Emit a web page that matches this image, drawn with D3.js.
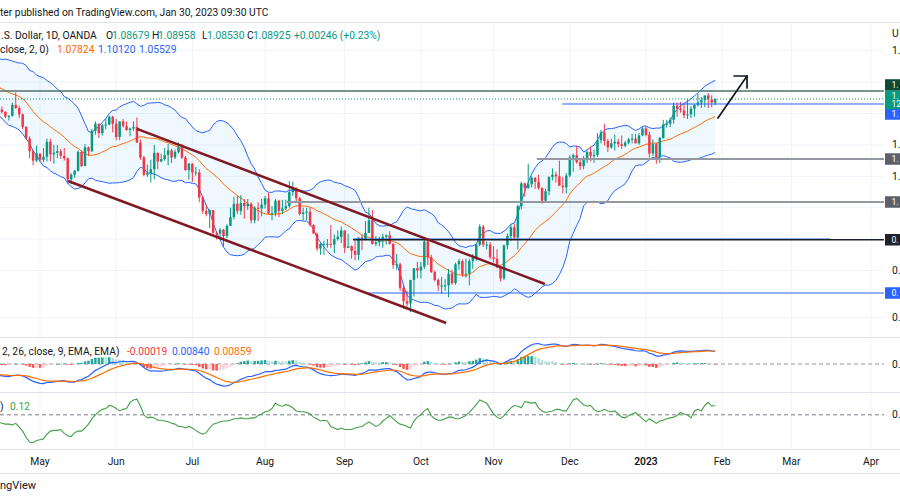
<!DOCTYPE html>
<html><head><meta charset="utf-8">
<script src="https://cdn.jsdelivr.net/npm/d3@7"></script>
<style>
body{margin:0;background:#fff;}
svg{display:block;font-family:Roboto,"Liberation Sans",Arial,sans-serif;}
</style></head><body>
<svg id="chart" width="900" height="500"></svg>
<script>
// ---------------- DATA ----------------
const firstDate = "2022-04-14";           // first visible daily bar (weekdays only)
const monthLabels = ["May","Jun","Jul","Aug","Sep","Oct","Nov","Dec","2023","Feb","Mar","Apr"];

// closes before the visible window (indicator warm-up)
const warmupClose = [1.1235,1.1300,1.1440,1.1450,1.1440,1.1415,1.1425,1.1425,1.1350,1.1305,1.1355,1.1375,1.1360,1.1320,1.1305,1.1330,1.1310,1.1190,1.1270,1.1220,
1.1125,1.1120,1.1065,1.0930,1.0855,1.0905,1.1075,1.0985,1.0910,1.0940,1.0955,1.1035,1.1095,1.1050,1.1015,1.1030,1.1005,1.0995,1.0985,1.0985,1.1090,1.1160,1.1065,
1.1045,1.0970,1.0905,1.0900,1.0880,1.0875,1.0885,1.0830,1.0890];

const opens = [1.0890,1.0825,1.0810,1.0780,1.0785,1.0855,1.0835,1.0795,1.0715,1.0640,1.0560,1.0500,
1.0545,1.0505,1.0525,1.0620,1.0540,1.0550,1.0560,1.0530,1.0515,1.0380,1.0410,1.0435,1.0555,1.0465,1.0585,1.0560,1.0690,1.0735,1.0675,1.0725,1.0730,1.0780,
1.0735,1.0650,1.0750,1.0720,1.0695,1.0705,1.0715,1.0615,1.0520,1.0410,1.0420,1.0445,1.0550,1.0495,1.0510,1.0535,1.0565,1.0520,1.0555,1.0585,1.0520,1.0440,
1.0480,1.0425,1.0425,1.0265,1.0180,1.0160,1.0185,1.0040,1.0035,1.0060,1.0020,1.0085,1.0140,1.0225,1.0180,1.0230,1.0210,1.0225,1.0120,1.0200,1.0195,
1.0220,1.0260,1.0165,1.0165,1.0245,1.0180,1.0195,1.0210,1.0300,1.0320,1.0260,1.0160,1.0170,1.0175,1.0090,1.0035,0.9940,0.9970,0.9970,0.9970,0.9965,1.0000,1.0015,
1.0055,0.9945,0.9955,0.9925,0.9900,1.0010,1.0000,1.0040,1.0120,0.9970,0.9980,0.9995,1.0015,1.0025,0.9970,0.9835,0.9840,0.9690,0.9605,0.9590,0.9740,0.9815,
0.9800,0.9825,0.9985,0.9885,0.9790,0.9740,0.9705,0.9705,0.9705,0.9780,0.9720,0.9840,0.9860,0.9775,0.9780,0.9860,0.9880,0.9965,1.0080,0.9965,0.9965,
0.9885,0.9875,0.9820,0.9750,0.9960,1.0020,1.0075,1.0010,1.0210,1.0355,1.0325,1.0350,1.0390,1.0365,1.0325,1.0245,1.0305,1.0395,1.0410,1.0400,1.0340,1.0330,
1.0405,1.0520,1.0535,1.0490,1.0465,1.0510,1.0555,1.0530,1.0535,1.0630,1.0680,1.0625,1.0585,1.0610,1.0620,1.0605,1.0595,1.0615,1.0635,1.0640,1.0610,1.0660,
1.0705,1.0665,1.0545,1.0605,1.0520,1.0645,1.0730,1.0735,1.0760,1.0850,1.0830,1.0820,1.0790,1.0795,1.0830,1.0855,1.0870,1.0885,1.0915,1.0890,1.08679];

const highs = [1.0925,1.0845,1.0815,1.0790,1.0870,1.0935,1.0850,1.0800,1.0720,1.0655,1.0570,1.0595,
1.0545,1.0580,1.0640,1.0640,1.0600,1.0600,1.0575,1.0580,1.0520,1.0420,1.0440,1.0565,1.0565,1.0605,1.0590,1.0700,1.0750,1.0735,1.0735,1.0765,1.0785,1.0785,
1.0765,1.0750,1.0765,1.0750,1.0710,1.0750,1.0775,1.0635,1.0530,1.0475,1.0505,1.0600,1.0550,1.0545,1.0580,1.0605,1.0575,1.0570,1.0615,1.0605,1.0530,1.0485,
1.0485,1.0460,1.0445,1.0275,1.0220,1.0190,1.0185,1.0050,1.0070,1.0065,1.0095,1.0200,1.0270,1.0275,1.0280,1.0255,1.0255,1.0235,1.0210,1.0235,1.0255,
1.0275,1.0295,1.0210,1.0255,1.0250,1.0250,1.0250,1.0370,1.0365,1.0330,1.0270,1.0200,1.0200,1.0200,1.0095,1.0040,0.9975,0.9990,1.0000,1.0090,1.0030,1.0055,1.0080,
1.0055,1.0035,0.9960,0.9990,1.0010,1.0030,1.0115,1.0200,1.0185,1.0020,1.0015,1.0035,1.0030,1.0050,0.9975,0.9905,0.9850,0.9710,0.9670,0.9740,0.9815,0.9855,
0.9855,0.9998,0.9995,0.9900,0.9800,0.9750,0.9760,0.9745,0.9810,0.9805,0.9850,0.9875,0.9870,0.9875,0.9875,0.9905,0.9975,1.0095,1.0090,0.9985,0.9980,
0.9955,0.9935,0.9825,0.9965,1.0035,1.0095,1.0095,1.0220,1.0365,1.0360,1.0480,1.0400,1.0395,1.0410,1.0330,1.0320,1.0400,1.0450,1.0430,1.0500,1.0395,1.0420,
1.0535,1.0545,1.0595,1.0505,1.0530,1.0565,1.0590,1.0570,1.0675,1.0695,1.0735,1.0640,1.0640,1.0665,1.0640,1.0660,1.0625,1.0645,1.0670,1.0670,1.0675,1.0715,
1.0715,1.0685,1.0635,1.0615,1.0650,1.0760,1.0760,1.0775,1.0870,1.0870,1.0875,1.0865,1.0890,1.0845,1.0860,1.0925,1.0905,1.0915,1.0930,1.0915,1.08958];

const lows = [1.0760,1.0800,1.0770,1.0755,1.0780,1.0830,1.0770,1.0700,1.0635,1.0515,1.0470,1.0490,
1.0490,1.0490,1.0495,1.0495,1.0480,1.0515,1.0510,1.0500,1.0350,1.0350,1.0390,1.0430,1.0460,1.0465,1.0530,1.0555,1.0665,1.0645,1.0660,1.0700,1.0725,1.0680,
1.0630,1.0630,1.0710,1.0690,1.0655,1.0690,1.0615,1.0505,1.0400,1.0395,1.0360,1.0380,1.0445,1.0490,1.0500,1.0470,1.0485,1.0510,1.0545,1.0510,1.0435,1.0380,
1.0365,1.0405,1.0235,1.0160,1.0145,1.0070,1.0035,0.9998,0.9995,0.9950,1.0005,1.0085,1.0125,1.0160,1.0155,1.0130,1.0185,1.0100,1.0100,1.0115,1.0145,
1.0195,1.0160,1.0120,1.0145,1.0140,1.0160,1.0185,1.0200,1.0275,1.0230,1.0150,1.0120,1.0120,1.0080,1.0035,0.9925,0.9900,0.9900,0.9945,0.9945,0.9910,0.9990,0.9975,
0.9910,0.9945,0.9875,0.9865,0.9865,0.9930,0.9995,1.0040,0.9965,0.9955,0.9955,0.9945,0.9965,0.9965,0.9810,0.9805,0.9670,0.9555,0.9570,0.9535,0.9635,0.9750,
0.9750,0.9810,0.9835,0.9785,0.9730,0.9670,0.9650,0.9670,0.9630,0.9710,0.9710,0.9805,0.9760,0.9755,0.9705,0.9810,0.9860,0.9955,0.9950,0.9935,0.9870,
0.9850,0.9815,0.9730,0.9740,0.9935,0.9990,1.0000,0.9935,1.0190,1.0270,1.0320,1.0330,1.0320,1.0315,1.0225,1.0240,1.0280,1.0375,1.0360,1.0340,1.0290,1.0290,
1.0395,1.0430,1.0480,1.0440,1.0445,1.0485,1.0495,1.0485,1.0525,1.0610,1.0595,1.0555,1.0575,1.0565,1.0585,1.0575,1.0585,1.0605,1.0610,1.0610,1.0600,1.0655,
1.0655,1.0520,1.0530,1.0480,1.0485,1.0640,1.0710,1.0715,1.0735,1.0780,1.0805,1.0770,1.0765,1.0770,1.0780,1.0845,1.0835,1.0840,1.0835,1.0840,1.08530];

const closes = [1.0825,1.0810,1.0780,1.0785,1.0855,1.0835,1.0795,1.0715,1.0640,1.0560,1.0500,1.0545,
1.0505,1.0525,1.0620,1.0540,1.0550,1.0560,1.0530,1.0515,1.0380,1.0410,1.0435,1.0555,1.0465,1.0585,1.0560,1.0690,1.0735,1.0675,1.0725,1.0730,1.0780,1.0735,
1.0650,1.0750,1.0720,1.0695,1.0705,1.0715,1.0615,1.0520,1.0410,1.0420,1.0445,1.0550,1.0495,1.0510,1.0535,1.0565,1.0520,1.0555,1.0585,1.0520,1.0440,1.0480,
1.0425,1.0425,1.0265,1.0180,1.0160,1.0185,1.0040,1.0035,1.0060,1.0020,1.0085,1.0140,1.0225,1.0180,1.0230,1.0210,1.0225,1.0120,1.0200,1.0195,1.0220,
1.0260,1.0165,1.0165,1.0245,1.0180,1.0195,1.0210,1.0300,1.0320,1.0260,1.0160,1.0170,1.0175,1.0090,1.0035,0.9940,0.9970,0.9970,0.9970,0.9965,1.0000,1.0015,1.0055,
0.9945,0.9955,0.9925,0.9900,1.0010,1.0000,1.0040,1.0120,0.9970,0.9980,0.9995,1.0015,1.0025,0.9970,0.9835,0.9840,0.9690,0.9605,0.9590,0.9740,0.9815,0.9800,
0.9825,0.9985,0.9885,0.9790,0.9740,0.9705,0.9705,0.9705,0.9780,0.9720,0.9840,0.9860,0.9775,0.9780,0.9860,0.9880,0.9965,1.0080,0.9965,0.9965,0.9885,
0.9875,0.9820,0.9750,0.9960,1.0020,1.0075,1.0010,1.0210,1.0355,1.0325,1.0350,1.0390,1.0365,1.0325,1.0245,1.0305,1.0395,1.0410,1.0400,1.0340,1.0330,1.0405,
1.0520,1.0535,1.0490,1.0465,1.0510,1.0555,1.0530,1.0535,1.0630,1.0680,1.0625,1.0585,1.0610,1.0620,1.0605,1.0595,1.0615,1.0635,1.0640,1.0610,1.0660,1.0705,
1.0665,1.0545,1.0605,1.0520,1.0645,1.0730,1.0735,1.0760,1.0850,1.0830,1.0820,1.0790,1.0795,1.0830,1.0855,1.0870,1.0885,1.0915,1.0890,1.0870,1.08925];

// Chaikin Money Flow values
const cmf = [-0.09,-0.11,-0.12,-0.12,-0.13,-0.11,-0.16,-0.21,-0.29,-0.35,-0.36,-0.33,
-0.32,-0.31,-0.25,-0.21,-0.20,-0.20,-0.19,-0.24,-0.27,-0.28,-0.23,-0.21,-0.21,-0.17,-0.12,-0.05,0.00,0.04,0.07,0.08,0.12,0.11,
0.08,0.05,0.07,0.08,0.16,0.19,0.20,0.11,0.00,-0.04,-0.03,-0.04,-0.07,-0.07,-0.08,-0.09,-0.11,-0.12,-0.15,-0.15,-0.17,-0.15,
-0.17,-0.20,-0.23,-0.25,-0.23,-0.17,-0.12,-0.11,-0.09,-0.08,-0.08,-0.07,-0.05,-0.05,-0.04,-0.05,-0.05,-0.04,-0.04,-0.01,0.01,
0.04,0.05,0.08,0.15,0.12,0.11,0.13,0.12,0.09,0.05,0.04,0.04,0.03,0.01,-0.03,-0.05,-0.08,-0.07,-0.08,-0.15,-0.17,-0.19,-0.17,
-0.19,-0.19,-0.19,-0.17,-0.16,-0.15,-0.12,-0.09,-0.12,-0.15,-0.13,-0.08,-0.05,-0.01,-0.05,-0.09,-0.12,-0.13,-0.15,-0.17,-0.08,-0.03,
0.00,0.05,0.08,-0.01,-0.05,-0.07,-0.07,-0.05,-0.03,-0.03,-0.05,-0.05,-0.03,-0.01,0.03,0.08,0.13,0.19,0.17,0.15,0.08,
0.01,-0.03,-0.05,-0.01,0.04,0.09,0.12,0.11,0.09,0.17,0.16,0.15,0.16,0.09,0.05,0.03,0.04,0.05,0.07,0.07,0.05,0.05,
0.12,0.19,0.21,0.17,0.13,0.11,0.12,0.07,0.04,0.05,0.07,0.05,0.04,0.05,0.01,-0.03,-0.04,-0.01,0.01,0.03,-0.01,-0.05,
-0.09,-0.05,-0.08,-0.11,-0.08,-0.07,-0.05,-0.04,-0.03,-0.01,0.03,0.01,0.00,-0.04,0.05,0.07,0.05,0.12,0.16,0.11,0.12];

// price-scale marks (gridlines) and the ones whose (clipped) labels show
const priceGrid = [1.12,1.10,1.08,1.06,1.04,1.02,1.00,0.98,0.95];
const priceLabelVals = [1.12,1.06,1.04,0.98,0.95];

// user drawings (bar index, price)
const channelUpper = [[40.0,1.0702],[157.8,0.97142]];
const channelLower = [[20.1,1.03702],[129.3,0.94657]];
const hLines = [
  {p:1.09435, from:0,     to:null,  color:"#4f7264", w:1.6, box:"#0d4b38", shift:-6},
  {p:1.08607, from:162.8, to:null,  color:"#2962ff", w:1.1, box:"#2962ff", shift:10},
  {p:1.05103, from:155.5, to:null,  color:"#9598a1", w:1.8, box:"#5d606b", shift:0},
  {p:1.02364, from:83.3,  to:null,  color:"#9598a1", w:1.8, box:"#5d606b", shift:0},
  {p:1.00000, from:102.4, to:240.2, color:"#2962ff", w:1.4, box:null},
  {p:0.99960, from:102.4, to:null,  color:"#1e222d", w:1.3, box:"#1e222d", shift:0},
  {p:0.96568, from:105.9, to:null,  color:"#2962ff", w:1.1, box:"#2962ff", shift:0}
];
const arrowPts = [[207.8,1.07715],[216.2,1.10390]];

const headerText = "ter published on TradingView.com, Jan 30, 2023 09:30 UTC";
const lastPrice = 1.08925;

// ---------------- LAYOUT ----------------
const svg = d3.select("#chart");
const plotR = 884;
const mainTop = 22, mainBot = 337, macdTop = 337, macdBot = 392, cmfTop = 392, cmfBot = 449;
const N = closes.length;

const dates = [];
{ let d = new Date(firstDate+"T00:00:00Z");
  while (dates.length < 280) { const wd = d.getUTCDay(); if (wd!==0 && wd!==6) dates.push(new Date(d)); d = new Date(d.getTime()+86400000); } }
const monthIdx = [];
for (let i=1;i<dates.length;i++) if (dates[i].getUTCMonth()!==dates[i-1].getUTCMonth()) monthIdx.push(i);
const ticks = monthIdx.slice(0, monthLabels.length).map((i,k)=>({i, label:monthLabels[k]}));

const x = d3.scaleLinear().domain([0,252]).range([-1.55,871]);
const y = d3.scaleLinear().domain([0.93766,1.13829]).range([mainBot,mainTop]);
const yM = d3.scaleLinear().domain([-0.01812,0.01748]).range([macdBot,macdTop]);
const yC = d3.scaleLinear().domain([-0.44,0.2933]).range([cmfBot,cmfTop]);
const step = x(1)-x(0);

// ---------------- INDICATORS ----------------
const W = warmupClose.length;
const all = warmupClose.concat(closes);
const basis=[], upper=[], lower=[];
for (let i=0;i<N;i++){
  const k=W+i, win=all.slice(k-19,k+1), m=d3.mean(win);
  const sd=Math.sqrt(d3.mean(win,v=>(v-m)*(v-m)));
  basis.push(m); upper.push(m+2*sd); lower.push(m-2*sd);
}
function ema(src,len){ const a=2/(len+1); const out=[]; let s=null;
  src.forEach((v,i)=>{ if(i<len-1){out.push(null); return;}
    if(s===null){ s=d3.mean(src.slice(0,len)); } else s=a*v+(1-a)*s; out.push(s);}); return out; }
const e12=ema(all,12), e26=ema(all,26);
const macdAll = all.map((v,i)=> (e26[i]===null? null : e12[i]-e26[i]));
const firstM = macdAll.findIndex(v=>v!==null);
const sigPart = ema(macdAll.slice(firstM),9);
const sigAll = macdAll.map((v,i)=> i<firstM?null:sigPart[i-firstM]);
const macd=[], signal=[], hist=[];
for(let i=0;i<N;i++){ macd.push(macdAll[W+i]); signal.push(sigAll[W+i]); hist.push(macdAll[W+i]-sigAll[W+i]); }
const histPrev = i => macdAll[W+i-1]-sigAll[W+i-1];

// ---------------- DRAW ----------------
svg.append("defs").append("clipPath").attr("id","plotclip").append("rect")
  .attr("x",0).attr("y",mainTop).attr("width",plotR).attr("height",mainBot-mainTop);
svg.append("rect").attr("width",900).attr("height",500).attr("fill","#fff");
const dark="#131722", green="#089981";
const FS = 10.3;

svg.append("text").attr("x",0).attr("y",16).attr("font-size",FS).attr("fill",dark).text(headerText);
svg.append("line").attr("x1",0).attr("x2",900).attr("y1",22.5).attr("y2",22.5).attr("stroke","#e0e3eb");

const grid = svg.append("g");
ticks.forEach(t=>{ grid.append("line").attr("x1",x(t.i)).attr("x2",x(t.i)).attr("y1",mainTop).attr("y2",cmfBot)
  .attr("stroke","#f0f3fa").attr("stroke-width",1); });
priceGrid.forEach(p=>{ grid.append("line").attr("x1",0).attr("x2",plotR).attr("y1",y(p)).attr("y2",y(p))
  .attr("stroke","#f0f3fa"); });

const main = svg.append("g").attr("clip-path","url(#plotclip)");
const idx = d3.range(N);
main.append("path").datum(idx).attr("fill","rgba(33,150,243,0.07)")
  .attr("d", d3.area().x(i=>x(i)).y0(i=>y(lower[i])).y1(i=>y(upper[i])));
const ln = arr => d3.line().x(i=>x(i)).y(i=>y(arr[i]));
main.append("path").datum(idx).attr("fill","none").attr("stroke","#2962ff").attr("stroke-width",1).attr("d",ln(upper));
main.append("path").datum(idx).attr("fill","none").attr("stroke","#2962ff").attr("stroke-width",1).attr("d",ln(lower));
main.append("path").datum(idx).attr("fill","none").attr("stroke","#ff6d00").attr("stroke-width",1).attr("d",ln(basis));

const bodyW = step*0.72;
const cg = main.append("g");
idx.forEach(i=>{
  const up = closes[i]>=opens[i]; const col = up?"#089981":"#f23645";
  cg.append("line").attr("x1",x(i)).attr("x2",x(i)).attr("y1",y(highs[i])).attr("y2",y(lows[i])).attr("stroke",col).attr("stroke-width",1);
  const y0=y(Math.max(opens[i],closes[i])), y1=y(Math.min(opens[i],closes[i]));
  cg.append("rect").attr("x",x(i)-bodyW/2).attr("y",y0).attr("width",bodyW).attr("height",Math.max(1,y1-y0)).attr("fill",col);
});

hLines.forEach(h=>{
  main.append("line").attr("x1",x(h.from)).attr("x2",h.to===null?plotR:x(h.to)).attr("y1",y(h.p)).attr("y2",y(h.p))
    .attr("stroke",h.color).attr("stroke-width",h.w);
});
main.append("line").attr("x1",0).attr("x2",plotR).attr("y1",y(lastPrice)).attr("y2",y(lastPrice))
  .attr("stroke","#089981").attr("stroke-width",1).attr("stroke-dasharray","1,2");
[channelUpper,channelLower].forEach(c=>{
  main.append("line").attr("x1",x(c[0][0])).attr("y1",y(c[0][1])).attr("x2",x(c[1][0])).attr("y2",y(c[1][1]))
    .attr("stroke","#801922").attr("stroke-width",2.5);
});
{ const [a,b]=arrowPts; const ax=x(a[0]), ay=y(a[1]), bx=x(b[0]), by=y(b[1]);
  const ag = main.append("g").attr("stroke",dark).attr("stroke-width",1.7).attr("fill","none").attr("stroke-linecap","round");
  ag.append("line").attr("x1",ax).attr("y1",ay).attr("x2",bx).attr("y2",by);
  ag.append("path").attr("d",`M${bx-13},${by} L${bx},${by} L${bx},${by+12}`);
}

// legends (only the parts visible inside the frame)
const lg = svg.append("g").attr("font-size",FS);
function seg(g,xp,yp,txt,col){ g.append("text").attr("x",xp).attr("y",yp).attr("fill",col).text(txt); }
seg(lg,1,39,".S. Dollar, 1D, OANDA",dark);
seg(lg,106,39,"O",dark); seg(lg,112,39,"1.08679",green);
seg(lg,152,39,"H",dark); seg(lg,158,39,"1.08958",green);
seg(lg,202,39,"L",dark); seg(lg,207,39,"1.08530",green);
seg(lg,247,39,"C",dark); seg(lg,253,39,"1.08925",green);
seg(lg,294,39,"+0.00246 (+0.23%)",green);
seg(lg,0,53,"close, 2, 0)",dark);
seg(lg,57,53,"1.07824","#ff6d00"); seg(lg,98,53,"1.10120","#2962ff"); seg(lg,139,53,"1.05529","#2962ff");

// right price scale (labels are cut by the frame: only the first characters show)
const rs = svg.append("g").attr("font-size",FS).attr("fill",dark);
rs.append("text").attr("x",892).attr("y",37).text("U");
priceLabelVals.forEach(p=>{ rs.append("text").attr("x",892).attr("y",y(p)+3.5).text(p.toFixed(5).slice(0,2)); });

const BFS = 8.6;
function box(cy,h,fill,lines){
  const g=svg.append("g");
  g.append("rect").attr("x",885).attr("y",cy-h/2).attr("width",20).attr("height",h).attr("fill",fill);
  const n=lines.length;
  lines.forEach((t,k)=>g.append("text").attr("x",891.5).attr("y",cy+3 + (k-(n-1)/2)*8.3)
    .attr("font-size",BFS).attr("fill","#fff").text(t));
}
hLines.filter(h=>h.box).forEach(h=>{
  box(y(h.p)+h.shift,11.5,h.box,[h.p.toFixed(5).slice(0,2)]);
});
box(y(lastPrice)+1,18.5,"#089981",[lastPrice.toFixed(5).slice(0,2),"12"]);

svg.append("line").attr("x1",0).attr("x2",900).attr("y1",mainBot+0.5).attr("y2",mainBot+0.5).attr("stroke","#e0e3eb");
svg.append("line").attr("x1",0).attr("x2",900).attr("y1",macdBot+0.5).attr("y2",macdBot+0.5).attr("stroke","#e0e3eb");
svg.append("line").attr("x1",0).attr("x2",900).attr("y1",cmfBot+0.5).attr("y2",cmfBot+0.5).attr("stroke","#e0e3eb");

// MACD pane
const mg = svg.append("g");
mg.append("line").attr("x1",0).attr("x2",plotR).attr("y1",yM(0)).attr("y2",yM(0)).attr("stroke","#9598a1").attr("stroke-dasharray","4,3");
idx.forEach(i=>{
  const h=hist[i], hp=histPrev(i);
  const col = h>=0 ? (hp<h?"#26a69a":"#b2dfdb") : (hp<h?"#ffcdd2":"#ff5252");
  const y0=yM(Math.max(0,h)), y1=yM(Math.min(0,h));
  mg.append("rect").attr("x",x(i)-bodyW/2).attr("y",y0).attr("width",bodyW).attr("height",Math.max(0.6,y1-y0)).attr("fill",col);
});
mg.append("path").datum(idx).attr("fill","none").attr("stroke","#2962ff").attr("stroke-width",1.2).attr("d",d3.line().x(i=>x(i)).y(i=>yM(macd[i])));
mg.append("path").datum(idx).attr("fill","none").attr("stroke","#ff6d00").attr("stroke-width",1.2).attr("d",d3.line().x(i=>x(i)).y(i=>yM(signal[i])));
const ml = svg.append("g").attr("font-size",FS);
seg(ml,2,355,"2, 26, close, 9, EMA, EMA)",dark);
seg(ml,127,355,"-0.00019","#f23645"); seg(ml,172,355,"0.00840","#2962ff"); seg(ml,214,355,"0.00859","#ff6d00");
rs.append("text").attr("x",892).attr("y",yM(0)+3.5).text("0.");

// CMF pane
const cgp = svg.append("g");
cgp.append("line").attr("x1",0).attr("x2",plotR).attr("y1",yC(0)).attr("y2",yC(0)).attr("stroke","#787b86").attr("stroke-dasharray","4,3");
cgp.append("path").datum(idx).attr("fill","none").attr("stroke","#43a047").attr("stroke-width",1.1).attr("d",d3.line().x(i=>x(i)).y(i=>yC(cmf[i])));
const cl = svg.append("g").attr("font-size",FS);
seg(cl,0,410,")",dark); seg(cl,10,410,"0.12","#43a047");
rs.append("text").attr("x",892).attr("y",yC(0)+3.5).text("0.");

// time axis
const tg = svg.append("g").attr("font-size",FS).attr("fill",dark).attr("text-anchor","middle");
ticks.forEach(t=>{ tg.append("text").attr("x",x(t.i)).attr("y",465).attr("font-weight",t.label==="2023"?600:400).text(t.label); });
svg.append("line").attr("x1",0).attr("x2",900).attr("y1",473.5).attr("y2",473.5).attr("stroke","#e0e3eb");
svg.append("text").attr("x",0).attr("y",489).attr("font-size",11).attr("fill",dark).text("ngView");
</script>
</body></html>
